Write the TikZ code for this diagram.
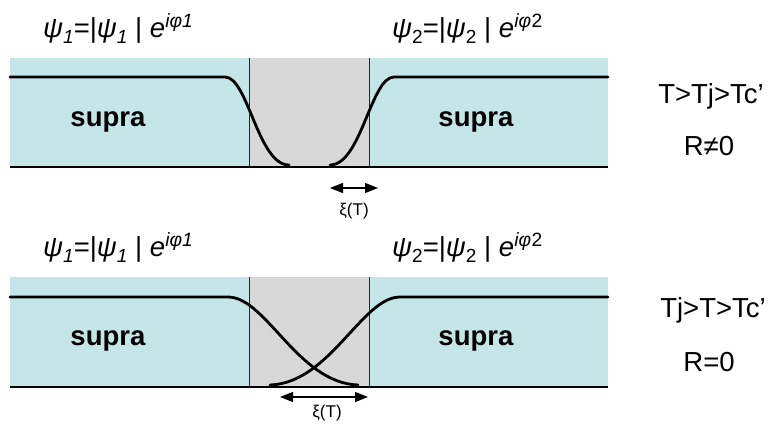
\documentclass[tikz,border=0pt]{standalone}
\usepackage{fontspec}
\setmainfont{Liberation Sans}
\usetikzlibrary{arrows.meta, positioning}
\definecolor{supc}{RGB}{196,230,233}
\definecolor{barc}{RGB}{216,216,216}
\newcommand{\lowsub}[1]{\raisebox{-0.45ex}{\fontsize{19}{20}\selectfont #1}}

\begin{document}
\begin{tikzpicture}[x=1pt, y=-1pt, font=\fontsize{27.5}{32}\selectfont,
  band/.style={fill=supc},
  barrier/.style={fill=barc},
  wall/.style={draw=black!85, line width=0.8pt},
  edge/.style={draw=black, line width=1.3pt},
  psi/.style={draw=black, line width=2.8pt, line cap=round},
  xiarrow/.style={{Triangle[length=13pt,width=10pt]}-{Triangle[length=13pt,width=10pt]}, line width=1.4pt},
  lbl/.style={inner sep=0pt},
  xilbl/.style={inner sep=0pt, font=\fontsize{17}{20}\selectfont},
]
\useasboundingbox (0,0) rectangle (774,426);
% ---------- upper junction: T>Tj ----------
\fill[band] (10,58) rectangle (608,167);
\fill[barrier] (249,58) rectangle (369,167);
\draw[wall] (249,58) -- (249,167);
\draw[wall] (369,58) -- (369,167);
\draw[edge] (10,167) -- (608,167);
\draw[psi] (10,77) -- (225,77) .. controls (248,77) and (258,165) .. (289,165);   % psi 1 decays
\draw[psi] (608,77) -- (394,77) .. controls (371,77) and (361,165) .. (330,165);  % psi 2 decays
\node[lbl] (sup1) at (108,122) {\textbf{supra}};
\node[lbl] (sup2) at (476,122) {\textbf{supra}};
\node[lbl, anchor=base west] (psia) at (43,37) {\textit{ψ\lowsub{1}}=|\textit{ψ\lowsub{1}} | \textit{e\textsuperscript{iφ1}}};
\node[lbl, anchor=base west] (psib) at (392,37) {\textit{ψ}\lowsub{2}=|\textit{ψ}\lowsub{2} | \textit{e\textsuperscript{iφ}}\textsuperscript{2}};
\node[lbl] (cond1) at (711,96) {T>Tj>Tc’};
\node[lbl] (res1) at (709,146) {R≠0};
\coordinate (xa1) at (330,188);
\coordinate (xb1) at (378,188);
\draw[xiarrow] (xa1) -- (xb1);
\node[xilbl] (xi1) at (354,211) {ξ(T)};
% ---------- lower junction: Tj>T ----------
\fill[band] (10,277) rectangle (608,387);
\fill[barrier] (249,277) rectangle (369,387);
\draw[wall] (249,277) -- (249,387);
\draw[wall] (369,277) -- (369,387);
\draw[edge] (10,387) -- (608,387);
\draw[psi] (10,297) -- (228,297) .. controls (266,297) and (298,383) .. (358,385);  % psi 1 overlaps
\draw[psi] (608,297) -- (400,297) .. controls (362,297) and (330,383) .. (270,385); % psi 2 overlaps
\node[lbl] (sup3) at (108,341) {\textbf{supra}};
\node[lbl] (sup4) at (476,341) {\textbf{supra}};
\node[lbl, anchor=base west] (psic) at (43,256) {\textit{ψ\lowsub{1}}=|\textit{ψ\lowsub{1}} | \textit{e\textsuperscript{iφ1}}};
\node[lbl, anchor=base west] (psid) at (392,256) {\textit{ψ}\lowsub{2}=|\textit{ψ}\lowsub{2} | \textit{e\textsuperscript{iφ}}\textsuperscript{2}};
\node[lbl] (cond2) at (713,310) {Tj>T>Tc’};
\node[lbl] (res2) at (709,362) {R=0};
\coordinate (xa2) at (280,397);
\coordinate (xb2) at (368,397);
\draw[xiarrow] (xa2) -- (xb2);
\node[xilbl] (xi2) at (327,413) {ξ(T)};
\end{tikzpicture}
\end{document}
